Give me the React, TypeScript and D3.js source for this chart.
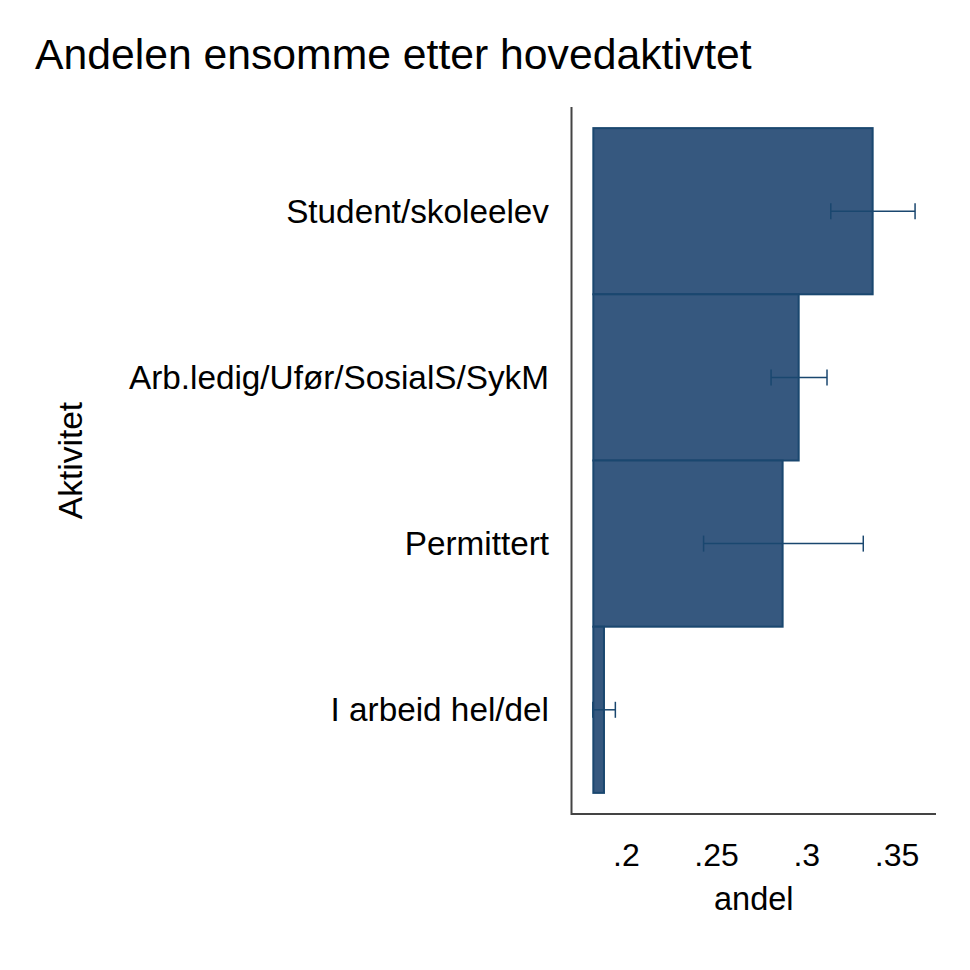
import React from 'react';
import { scaleLinear, scaleBand } from 'd3';

// andel ensomme per hovedaktivitet, med konfidensintervall
const categories = ['Student/skoleelev', 'Arb.ledig/Ufør/SosialS/SykM', 'Permittert', 'I arbeid hel/del'];
const andel = [0.3365, 0.2955, 0.2866, 0.1876];
const ciLow = [0.3133, 0.2802, 0.2428, 0.1814];
const ciHigh = [0.36, 0.3112, 0.3313, 0.1939];
const xTicks = [0.2, 0.25, 0.3, 0.35];
const barBase = 0.1817;

const W = 970;
const H = 970;
const left = 571.5;
const right = 936;
const top = 107;
const bottom = 814;

const font = 'Arial, "Liberation Sans", sans-serif';
const fillColor = '#36587f';
const lineColor = '#1a476f';

const App = () => {
  const x = scaleLinear().domain([0.1696, 0.3716]).range([left, right]);
  const y = scaleBand<string>()
    .domain(categories)
    .range([top, bottom])
    .paddingInner(0)
    .paddingOuter(0.127);
  const bw = y.bandwidth();

  return (
    <svg
      width={W}
      height={H}
      style={{ position: 'absolute', left: 0, top: 0, background: '#fff' }}
      fontFamily={font}
    >
      <rect width={W} height={H} fill="#fff" />
      <text x={35} y={69} fontSize={42.7} fill="#000">
        Andelen ensomme etter hovedaktivtet
      </text>

      {/* bars */}
      {categories.map((c, i) => (
        <rect
          key={c}
          x={x(barBase)}
          y={y(c)!}
          width={x(andel[i]) - x(barBase)}
          height={bw}
          fill={fillColor}
          stroke={lineColor}
          strokeWidth={2}
        />
      ))}

      {/* error bars */}
      {categories.map((c, i) => {
        const cy = y(c)! + bw / 2;
        return (
          <g key={c + '-ci'} stroke={lineColor} strokeWidth={1.5}>
            <line x1={x(ciLow[i])} x2={x(ciHigh[i])} y1={cy} y2={cy} />
            <line x1={x(ciLow[i])} x2={x(ciLow[i])} y1={cy - 8} y2={cy + 8} />
            <line x1={x(ciHigh[i])} x2={x(ciHigh[i])} y1={cy - 8} y2={cy + 8} />
          </g>
        );
      })}

      {/* axes */}
      <line x1={left} x2={left} y1={top} y2={bottom + 1} stroke="#444" strokeWidth={2} />
      <line x1={left} x2={right} y1={bottom} y2={bottom} stroke="#444" strokeWidth={2} />

      {/* category labels */}
      {categories.map((c) => (
        <text
          key={c + '-lab'}
          x={549}
          y={y(c)! + bw / 2}
          dy="0.35em"
          textAnchor="end"
          fontSize={33.3}
          fill="#000"
        >
          {c}
        </text>
      ))}

      {/* x tick labels */}
      {xTicks.map((t) => (
        <text key={t} x={x(t)} y={866} textAnchor="middle" fontSize={32} fill="#000">
          {String(t).replace(/^0/, '')}
        </text>
      ))}

      <text x={(left + right) / 2} y={910} textAnchor="middle" fontSize={32.5} fill="#000">
        andel
      </text>
      <text
        transform={`translate(82, ${(top + bottom) / 2}) rotate(-90)`}
        textAnchor="middle"
        fontSize={33.5}
        fill="#000"
      >
        Aktivitet
      </text>
    </svg>
  );
};

export default App;
